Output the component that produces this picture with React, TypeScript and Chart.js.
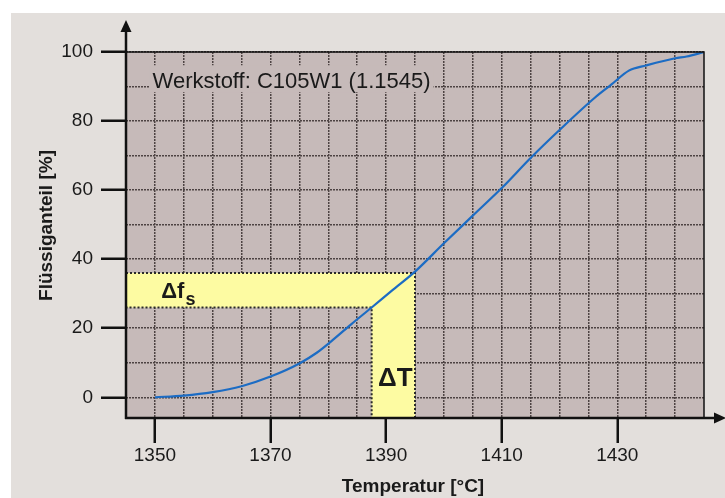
import React, { useEffect, useRef } from 'react';
import { Chart, registerables } from 'chart.js';

Chart.register(...registerables);

// ---- data ----
const temperatures = [1350, 1355, 1360, 1365, 1370, 1375, 1378, 1381, 1384, 1387.5, 1391, 1395, 1400, 1405, 1410, 1415, 1420, 1426, 1429, 1432, 1435, 1440, 1442, 1445];
const liquidFraction = [0, 0.5, 1.5, 3.2, 6.0, 9.8, 12.9, 16.9, 21.2, 26, 30.9, 36.4, 44.6, 52.6, 60.6, 69.3, 77.4, 86.6, 90.6, 94.6, 96.1, 98.2, 98.7, 100];

const xGridValues = [1350, 1355, 1360, 1365, 1370, 1375, 1380, 1385, 1390, 1395, 1400, 1405, 1410, 1415, 1420, 1425, 1430, 1435, 1440];
const xLabelValues = [1350, 1370, 1390, 1410, 1430];
const yGridValues = [0, 10, 20, 30, 40, 50, 60, 70, 80, 90, 100];
const yLabelValues = [0, 20, 40, 60, 80, 100];

const bandFs = [26, 36];          // Δf_s range (%)
const bandT = [1387.5, 1395];     // ΔT range (°C)

const materialLabel = 'Werkstoff: C105W1 (1.1545)';
const xTitle = 'Temperatur [°C]';
const yTitle = 'Flüssiganteil [%]';

// ---- styles ----
const FONT = "'Liberation Sans', Arial, Helvetica, sans-serif";
const PANEL_BG = '#e3dfdc';
const PLOT_BG = '#c6bab9';
const GRID = '#4d4343';
const YELLOW = '#fdfba2';
const BLUE = '#1c6cc4';
const INK = '#1a1a1a';

const decor = {
  id: 'decor',
  beforeDraw(chart: any) {
    const { ctx, chartArea: a } = chart;
    ctx.save();
    ctx.fillStyle = PLOT_BG;
    ctx.fillRect(a.left, a.top, a.right - a.left, a.bottom - a.top);
    ctx.restore();
  },
  beforeDatasetsDraw(chart: any) {
    const { ctx, scales } = chart;
    const x = scales.x, y = scales.y;
    const xl = x.getPixelForValue(x.min);
    const xm = x.getPixelForValue(bandT[0]);
    const xr = x.getPixelForValue(bandT[1]);
    const yt = y.getPixelForValue(bandFs[1]);
    const yb = y.getPixelForValue(bandFs[0]);
    const y0 = y.getPixelForValue(y.min);
    ctx.save();
    ctx.beginPath();
    ctx.moveTo(xl, yt);
    ctx.lineTo(xr, yt);
    ctx.lineTo(xr, y0);
    ctx.lineTo(xm, y0);
    ctx.lineTo(xm, yb);
    ctx.lineTo(xl, yb);
    ctx.closePath();
    ctx.fillStyle = YELLOW;
    ctx.fill();
    ctx.setLineDash([2, 2]);
    ctx.lineWidth = 2;
    ctx.strokeStyle = '#2a2a2a';
    ctx.stroke();
    ctx.restore();
  },
  afterDatasetsDraw(chart: any) {
    const { ctx, chartArea: a, scales } = chart;
    const x = scales.x, y = scales.y;
    ctx.save();

    // material label with plot-coloured backing
    ctx.font = `22px ${FONT}`;
    const lx = x.getPixelForValue(1349.6);
    const ly = y.getPixelForValue(89.5);
    const w = ctx.measureText(materialLabel).width;
    ctx.fillStyle = PLOT_BG;
    ctx.fillRect(lx - 3, ly - 23, w + 6, 27);
    ctx.fillStyle = INK;
    ctx.textBaseline = 'alphabetic';
    ctx.textAlign = 'left';
    ctx.fillText(materialLabel, lx, ly);

    // Δf_s
    ctx.font = `bold 22px ${FONT}`;
    const fx = x.getPixelForValue(1351.1);
    const fy = y.getPixelForValue(28.8);
    ctx.fillText('Δf', fx, fy);
    const fw = ctx.measureText('Δf').width;
    ctx.font = `bold 18px ${FONT}`;
    ctx.fillText('s', fx + fw + 1, fy + 7);

    // ΔT
    ctx.font = `bold 26px ${FONT}`;
    ctx.textAlign = 'center';
    ctx.fillText('ΔT', (x.getPixelForValue(bandT[0]) + x.getPixelForValue(bandT[1])) / 2 + 2, y.getPixelForValue(3.4));

    // top and right frame
    ctx.strokeStyle = '#111';
    ctx.lineWidth = 1.5;
    ctx.beginPath();
    ctx.moveTo(a.left, a.top);
    ctx.lineTo(a.right, a.top);
    ctx.lineTo(a.right, a.bottom);
    ctx.stroke();

    // axes with arrows
    ctx.lineWidth = 2.5;
    ctx.beginPath();
    ctx.moveTo(a.left, a.bottom + 1);
    ctx.lineTo(a.left, 30);
    ctx.moveTo(a.left - 1, a.bottom);
    ctx.lineTo(716, a.bottom);
    ctx.stroke();
    ctx.fillStyle = '#111';
    ctx.beginPath();
    ctx.moveTo(a.left, 20);
    ctx.lineTo(a.left + 5.5, 32);
    ctx.lineTo(a.left - 5.5, 32);
    ctx.closePath();
    ctx.fill();
    ctx.beginPath();
    ctx.moveTo(726, a.bottom);
    ctx.lineTo(714, a.bottom - 5.5);
    ctx.lineTo(714, a.bottom + 5.5);
    ctx.closePath();
    ctx.fill();

    // axis titles
    ctx.fillStyle = INK;
    ctx.font = `bold 19px ${FONT}`;
    ctx.textAlign = 'center';
    ctx.textBaseline = 'middle';
    ctx.fillText(xTitle, 413, 487);
    ctx.translate(47, 225.5);
    ctx.rotate(-Math.PI / 2);
    ctx.fillText(yTitle, 0, 0);
    ctx.restore();
  },
};

export default function App() {
  const canvasRef = useRef<HTMLCanvasElement | null>(null);

  useEffect(() => {
    document.body.style.margin = '0';
    const canvas = canvasRef.current;
    if (!canvas) return;
    const chart = new Chart(canvas, {
      type: 'line',
      data: {
        datasets: [
          {
            data: temperatures.map((t, i) => ({ x: t, y: liquidFraction[i] })),
            borderColor: BLUE,
            borderWidth: 2.2,
            pointRadius: 0,
            fill: false,
            cubicInterpolationMode: 'monotone',
          },
        ],
      },
      options: {
        responsive: false,
        animation: false,
        devicePixelRatio: 1,
        layout: { padding: { top: 52, right: 21, left: 0, bottom: 0 } },
        plugins: { legend: { display: false }, tooltip: { enabled: false } },
        scales: {
          x: {
            type: 'linear',
            min: 1345,
            max: 1445,
            afterBuildTicks: (s: any) => {
              s.ticks = xGridValues.map((v) => ({ value: v }));
            },
            afterFit: (s: any) => {
              s.height = 80;
            },
            ticks: {
              autoSkip: false,
              maxRotation: 0,
              padding: 1,
              color: INK,
              font: { family: FONT, size: 19 },
              callback: (v: any) => (xLabelValues.includes(Number(v)) ? String(v) : ''),
            },
            grid: {
              color: GRID,
              lineWidth: 1.5,
              tickLength: 25,
              tickWidth: 2.5,
              tickColor: (c: any) => (c.tick && xLabelValues.includes(c.tick.value) ? '#111' : 'rgba(0,0,0,0)'),
            },
            border: { display: false, dash: [2, 1] },
          },
          y: {
            type: 'linear',
            min: -6,
            max: 100,
            afterBuildTicks: (s: any) => {
              s.ticks = yGridValues.map((v) => ({ value: v }));
            },
            afterFit: (s: any) => {
              s.width = 126;
            },
            ticks: {
              autoSkip: false,
              padding: 8,
              color: INK,
              font: { family: FONT, size: 19 },
              callback: (v: any) => (yLabelValues.includes(Number(v)) ? String(v) : ''),
            },
            grid: {
              color: GRID,
              lineWidth: 1.5,
              tickLength: 25,
              tickWidth: 2.5,
              tickColor: (c: any) => (c.tick && yLabelValues.includes(c.tick.value) ? '#111' : 'rgba(0,0,0,0)'),
            },
            border: { display: false, dash: [2, 1] },
          },
        },
      } as any,
      plugins: [decor],
    });
    return () => chart.destroy();
  }, []);

  return (
    <div style={{ position: 'relative', width: 725, height: 498, background: '#ffffff', overflow: 'hidden' }}>
      <div style={{ position: 'absolute', left: 11, top: 13, right: 0, bottom: 0, background: PANEL_BG }} />
      <canvas ref={canvasRef} width={725} height={498} style={{ position: 'absolute', left: 0, top: 0, width: 725, height: 498 }} />
    </div>
  );
}
